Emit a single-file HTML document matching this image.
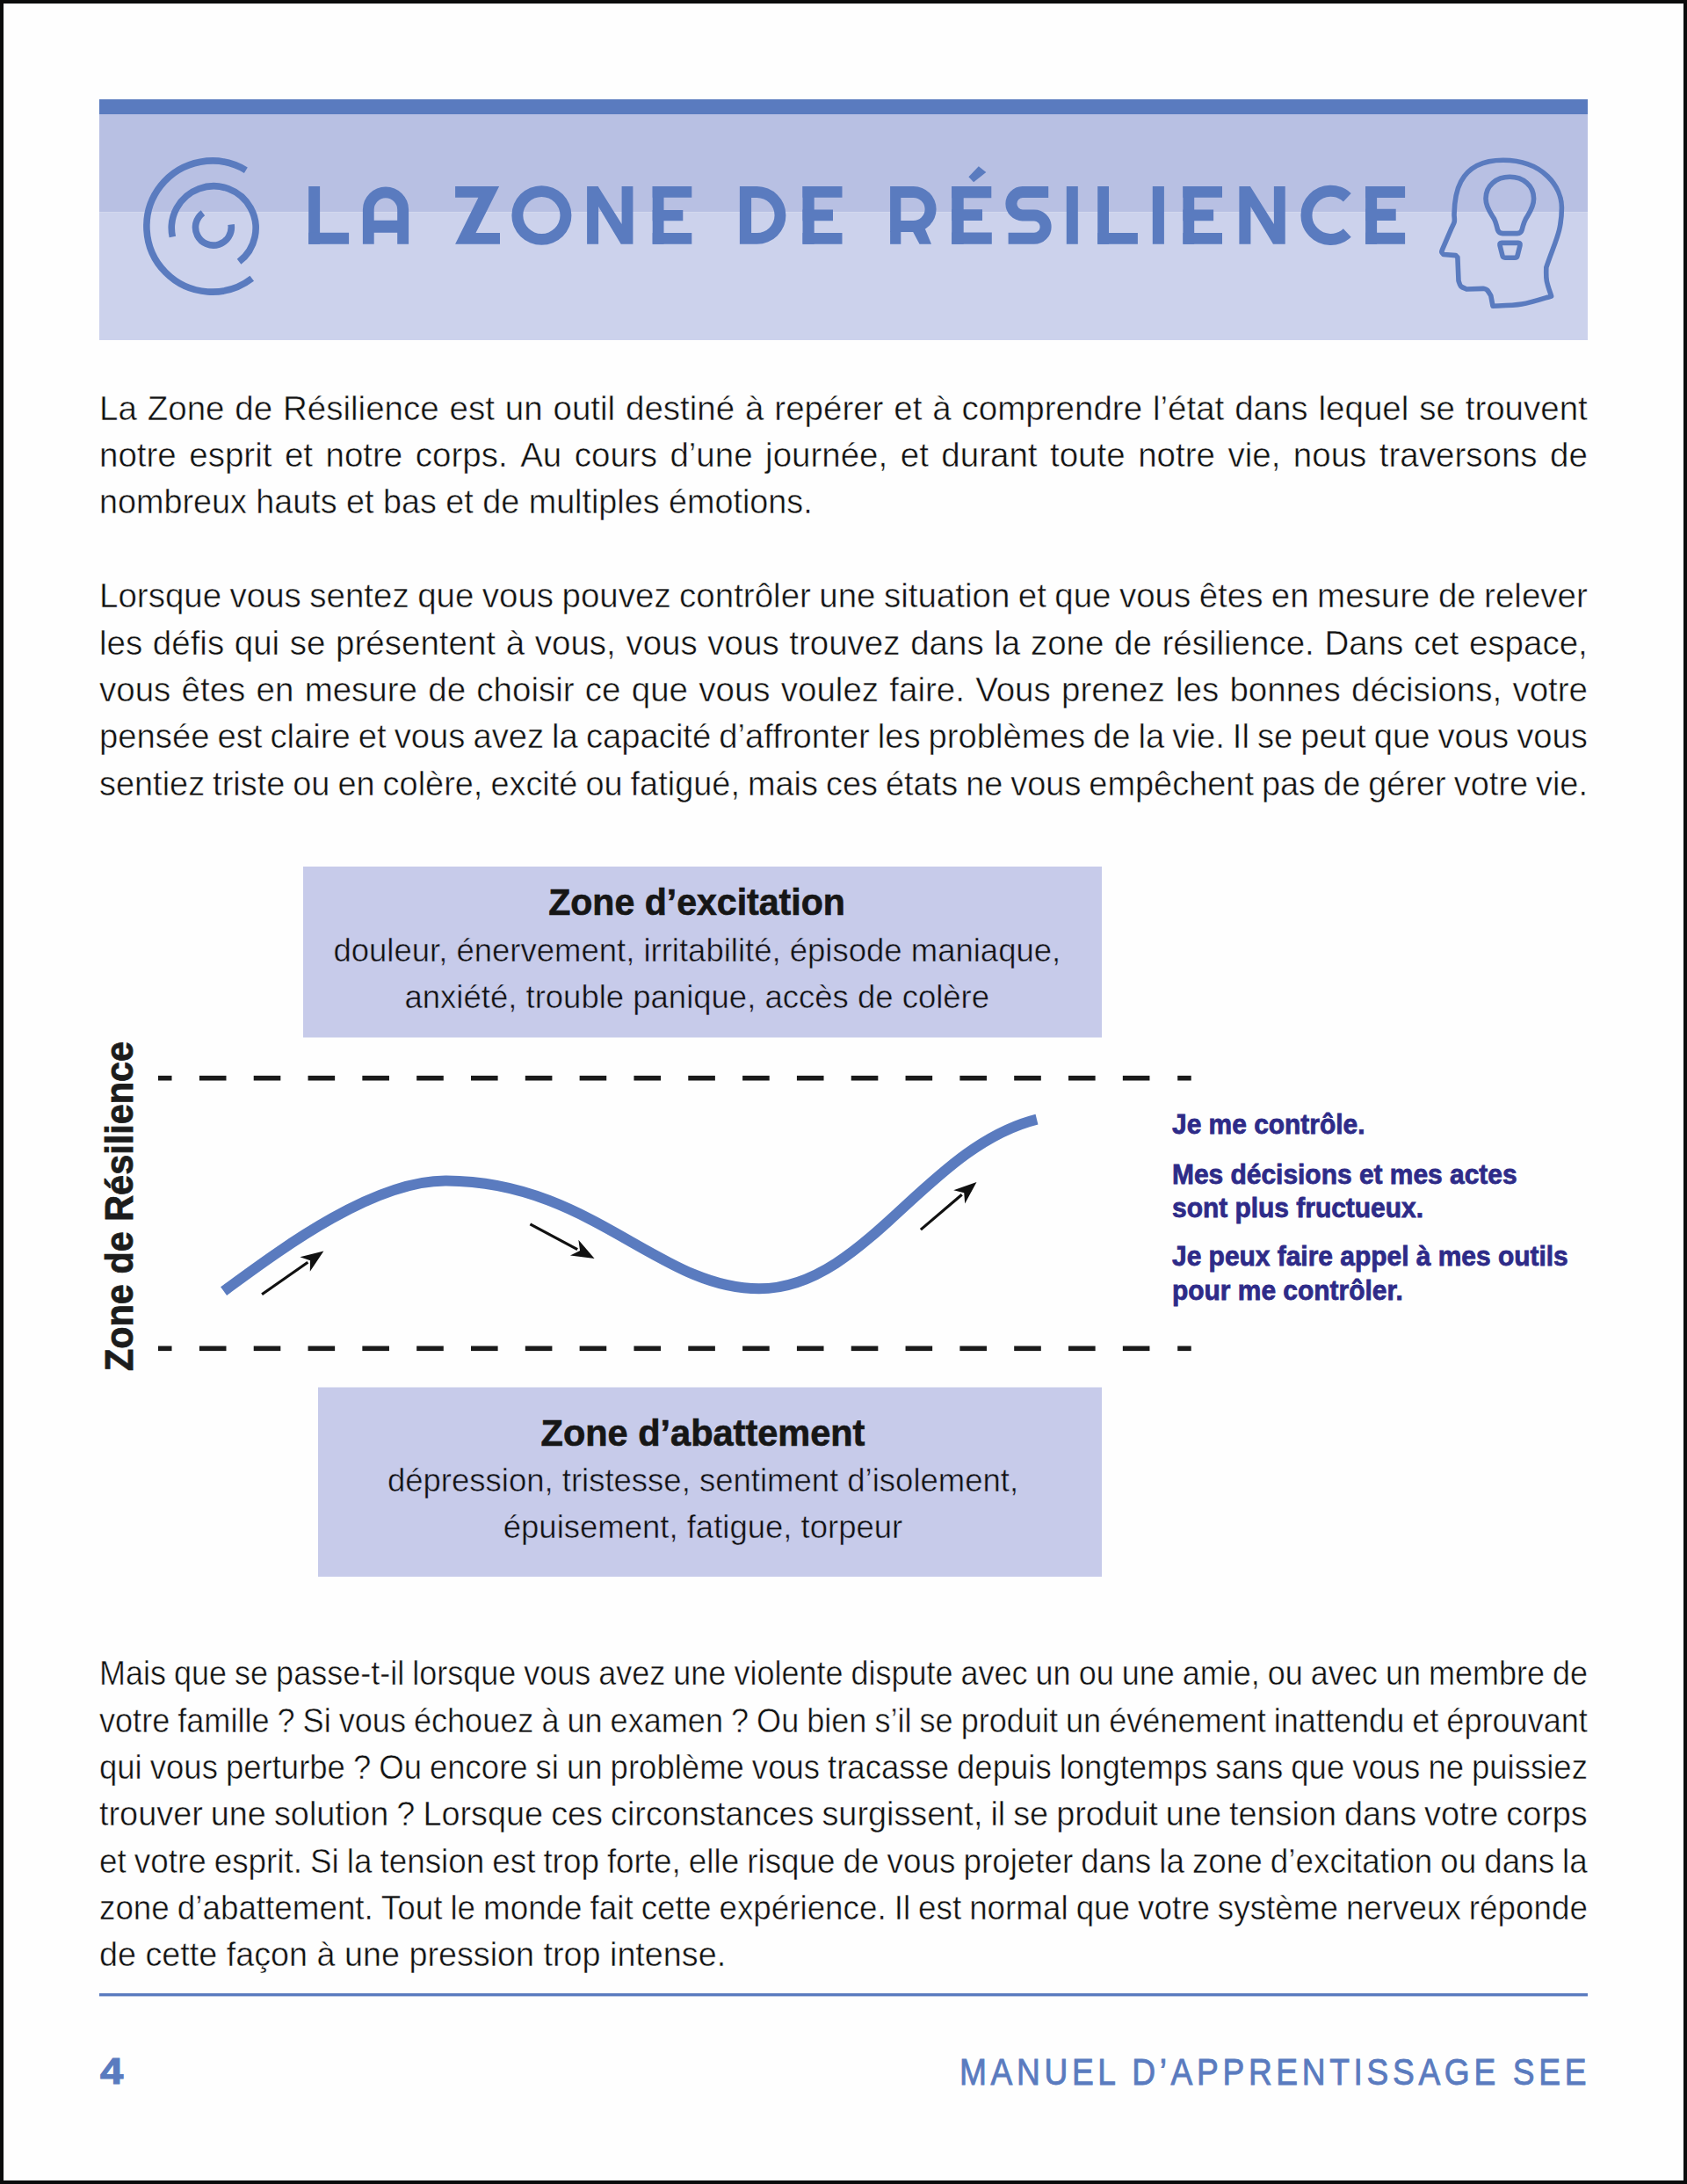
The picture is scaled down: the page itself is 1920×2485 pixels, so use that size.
<!DOCTYPE html>
<html><head><meta charset="utf-8"><title>La Zone de Résilience</title>
<style>
html,body{margin:0;padding:0;background:#fff;}
body{width:1920px;height:2485px;position:relative;overflow:hidden;font-family:"Liberation Sans",sans-serif;}
.ln{position:absolute;white-space:nowrap;}
.j{display:flex;justify-content:space-between;}
.j span{flex:0 0 auto;}
.thin{-webkit-text-stroke:0.5px #fefefe;}
.thinb{-webkit-text-stroke:0.5px #c7cbea;}
svg{position:absolute;left:0;top:0;}
</style></head><body>
<svg width="1920" height="2485" viewBox="0 0 1920 2485">
<rect x="0" y="0" width="1920" height="2485" fill="#fefefe"/>
<rect x="113" y="113" width="1694" height="17" fill="#5a7bbf"/>
<rect x="113" y="130" width="1694" height="111.5" fill="#b8c0e3"/>
<rect x="113" y="241.5" width="1694" height="145.5" fill="#ccd2ec"/>
<g fill="#5a7bbf"><path d="M351.2 212H364.1V277.8H351.2Z"/><path d="M351.2 264.7H397.1V277.8H351.2Z"/><path d="M518.1 212L568.1 212L541.5 265L569 265L569 277.8L518.1 277.8L544.4 224.7L518.1 224.7Z"/><path d="M668.1 212L680.6 212L707.6 255L707.6 212L720.4 212L720.4 277.8L706.7 277.8L681.1 235.1L681.1 277.8L668.1 277.8Z"/><path d="M742.7 212H755.5V277.8H742.7Z"/><path d="M742.7 212H787.3V224.8H742.7Z"/><path d="M742.7 238.9H777.3V251.2H742.7Z"/><path d="M742.7 265H787.3V277.8H742.7Z"/><path d="M913.5 212H926.7V277.8H913.5Z"/><path d="M913.5 212H958.5V224.8H913.5Z"/><path d="M913.5 238.4H948V251.2H913.5Z"/><path d="M913.5 265H958.5V277.8H913.5Z"/><path d="M1013.1 263H1025.3V277.8H1013.1Z"/><path d="M1036 258L1051 256L1060 277.8L1046.5 277.8Z"/><path d="M1083.2 212H1096.7V277.8H1083.2Z"/><path d="M1083.2 212H1128.3V225.3H1083.2Z"/><path d="M1083.2 238.3H1118V251H1083.2Z"/><path d="M1083.2 264.6H1128.8V277.8H1083.2Z"/><path d="M1102.4 201.3L1113.8 189.2L1122.3 195.9L1108.1 207.3Z"/><path d="M1213.8 212H1226.8V277.8H1213.8Z"/><path d="M1249.2 212H1262V277.8H1249.2Z"/><path d="M1249.2 265H1294.9V277.8H1249.2Z"/><path d="M1311.8 212H1324.9V277.8H1311.8Z"/><path d="M1346.4 212H1359.2V277.8H1346.4Z"/><path d="M1346.4 212H1391V224.8H1346.4Z"/><path d="M1346.4 238.4H1381.1V251.2H1346.4Z"/><path d="M1346.4 265H1391V277.8H1346.4Z"/><path d="M1410.4 212L1422.9 212L1449.9 255L1449.9 212L1462.7 212L1462.7 277.8L1449.0 277.8L1423.4 235.1L1423.4 277.8L1410.4 277.8Z"/><path d="M1554.1 212H1567.1V277.8H1554.1Z"/><path d="M1554.1 212H1599.1V225H1554.1Z"/><path d="M1554.1 237.8H1588.7V251.1H1554.1Z"/><path d="M1554.1 264.8H1599.1V277.8H1554.1Z"/></g>
<g fill="#5a7bbf" fill-rule="evenodd"><path d="M412.9 277.8V238.6A26.1 26.1 0 0 1 465.1 238.6V277.8H452.2V264.7H425.7V277.8ZM425.7 250.8H452.2V238.6A13.25 13.25 0 0 0 425.7 238.6Z"/><path d="M616.4 211.2A34 33.8 0 1 1 616.4 278.8A34 33.8 0 1 1 616.4 211.2ZM616.4 224A21.1 21 0 1 0 616.4 266A21.1 21 0 1 0 616.4 224Z"/><path d="M841.9 212H861.5A32.9 32.9 0 0 1 861.5 277.8H841.9ZM855.1 224.9H861.5A20.05 20.05 0 0 1 861.5 265H855.1Z"/><path d="M1013.1 212H1039.6A26 26 0 0 1 1039.6 264H1013.1ZM1025.3 225H1039.6A13 13 0 0 1 1039.6 251H1025.3Z"/></g>
<g fill="none" stroke="#5a7bbf" stroke-width="13"><path d="M1193.2 218.45H1163.8A13.28 13.28 0 0 0 1163.8 245H1177A13.12 13.12 0 0 1 1177 271.25H1147.6"/><path d="M1533.29 224.75A27.55 27.55 0 1 0 1533.29 265.05"/></g>
<g fill="none" stroke="#5a7bbf" stroke-width="7.6"><path d="M279.85 193.65A74.55 74.55 0 1 0 286.73 316.77"/><path d="M196.35 269.56A47.9 47.9 0 1 1 272.09 297.80"/><path d="M263.05 255.51A20.4 20.4 0 1 1 230.91 242.20"/></g>
<g fill="none" stroke="#5a7bbf" stroke-width="5.6" stroke-linejoin="round"><path d="M1699 348.2L1696.8 336.5C1696.10 335.43 1694.02 331.45 1692.60 330.10C1691.18 328.75 1689.02 328.68 1688.30 328.40L1669.1 329C1668.03 328.47 1664.22 327.40 1662.70 325.80C1661.18 324.20 1660.45 320.47 1660.00 319.40L1658.9 292.7C1658.55 292.35 1657.15 290.95 1656.80 290.60L1642.9 289.5C1642.55 289.05 1640.97 287.87 1640.80 286.80C1640.63 285.73 1641.72 283.72 1641.90 283.10L1652 259.6C1652.53 258.37 1654.70 254.68 1655.20 252.20C1655.70 249.72 1655.03 245.95 1655.00 244.70C1655.45 229.7 1654.7 182.3 1710.7 182.3C1756.7 182.3 1777.4 213.2 1777.4 236.2C1777.4 264.2 1769.5 275 1759.8 304.4C1759.88 306.90 1759.33 313.97 1760.30 319.40C1761.27 324.83 1764.72 334.07 1765.60 337.00C1760.00 338.52 1743.10 344.23 1732.00 346.10C1720.90 347.97 1704.50 347.85 1699.00 348.20Z"/><path d="M1691 226C1691 236 1697 243 1700.5 249C1703 254 1703.5 258 1704.5 261.5Q1706 265.6 1710.3 265.6L1726.9 265.6Q1731 265.6 1732.2 261.5C1733 258 1734 254 1736.5 249C1740 243 1745.6 236 1745.6 226C1745.6 211 1733.6 201.3 1718.3 201.3C1703 201.3 1691 211 1691 226Z"/><path d="M1709 276.4L1728 276.4Q1730.5 276.4 1730 279L1727 291Q1726.5 293.2 1724 293.2L1713 293.2Q1710.5 293.2 1710 291L1707 279Q1706.5 276.4 1709 276.4Z"/></g>
<rect x="345" y="986" width="909" height="194.5" fill="#c7cbea"/>
<rect x="362" y="1578.5" width="892" height="215.5" fill="#c7cbea"/>
<g fill="#1a1a1a"><rect x="180" y="1223.90" width="15.5" height="5.6"/><rect x="226.90" y="1223.90" width="30.6" height="5.6"/><rect x="288.72" y="1223.90" width="30.6" height="5.6"/><rect x="350.54" y="1223.90" width="30.6" height="5.6"/><rect x="412.36" y="1223.90" width="30.6" height="5.6"/><rect x="474.18" y="1223.90" width="30.6" height="5.6"/><rect x="536.00" y="1223.90" width="30.6" height="5.6"/><rect x="597.82" y="1223.90" width="30.6" height="5.6"/><rect x="659.64" y="1223.90" width="30.6" height="5.6"/><rect x="721.46" y="1223.90" width="30.6" height="5.6"/><rect x="783.28" y="1223.90" width="30.6" height="5.6"/><rect x="845.10" y="1223.90" width="30.6" height="5.6"/><rect x="906.92" y="1223.90" width="30.6" height="5.6"/><rect x="968.74" y="1223.90" width="30.6" height="5.6"/><rect x="1030.56" y="1223.90" width="30.6" height="5.6"/><rect x="1092.38" y="1223.90" width="30.6" height="5.6"/><rect x="1154.20" y="1223.90" width="30.6" height="5.6"/><rect x="1216.02" y="1223.90" width="30.6" height="5.6"/><rect x="1277.84" y="1223.90" width="30.6" height="5.6"/><rect x="1340.2" y="1223.90" width="15.5" height="5.6"/><rect x="180" y="1531.50" width="15.5" height="5.6"/><rect x="226.90" y="1531.50" width="30.6" height="5.6"/><rect x="288.72" y="1531.50" width="30.6" height="5.6"/><rect x="350.54" y="1531.50" width="30.6" height="5.6"/><rect x="412.36" y="1531.50" width="30.6" height="5.6"/><rect x="474.18" y="1531.50" width="30.6" height="5.6"/><rect x="536.00" y="1531.50" width="30.6" height="5.6"/><rect x="597.82" y="1531.50" width="30.6" height="5.6"/><rect x="659.64" y="1531.50" width="30.6" height="5.6"/><rect x="721.46" y="1531.50" width="30.6" height="5.6"/><rect x="783.28" y="1531.50" width="30.6" height="5.6"/><rect x="845.10" y="1531.50" width="30.6" height="5.6"/><rect x="906.92" y="1531.50" width="30.6" height="5.6"/><rect x="968.74" y="1531.50" width="30.6" height="5.6"/><rect x="1030.56" y="1531.50" width="30.6" height="5.6"/><rect x="1092.38" y="1531.50" width="30.6" height="5.6"/><rect x="1154.20" y="1531.50" width="30.6" height="5.6"/><rect x="1216.02" y="1531.50" width="30.6" height="5.6"/><rect x="1277.84" y="1531.50" width="30.6" height="5.6"/><rect x="1340.2" y="1531.50" width="15.5" height="5.6"/></g>
<path d="M254.6 1469.1C315.2 1424.9 422 1343.6 507 1343.6C672 1343.6 749 1466.3 864 1466.3C984 1466.3 1053.9 1305.1 1180 1273.6" fill="none" stroke="#5a7bbf" stroke-width="12"/>
<line x1="298.1" y1="1472.7" x2="350.36" y2="1436.20" stroke="#111" stroke-width="3.2"/><path d="M368.4 1423.6L352.81 1446.69L353.05 1434.32L341.36 1430.29Z" fill="#111"/><line x1="603.4" y1="1392.9" x2="657.18" y2="1421.56" stroke="#111" stroke-width="3.2"/><path d="M676.6 1431.9L648.95 1428.50L660.08 1423.10L658.36 1410.85Z" fill="#111"/><line x1="1047.9" y1="1399.1" x2="1094.74" y2="1359.25" stroke="#111" stroke-width="3.2"/><path d="M1111.5 1345L1098.17 1369.46L1097.24 1357.13L1085.22 1354.23Z" fill="#111"/>
<rect x="113" y="2268" width="1694" height="3.4" fill="#5a7bbf"/>
<rect x="0" y="0" width="1920" height="4" fill="#0b0c0c"/>
<rect x="0" y="2481" width="1920" height="4" fill="#0b0c0c"/>
<rect x="0" y="0" width="4" height="2485" fill="#0b0c0c"/>
<rect x="1916" y="0" width="4" height="2485" fill="#0b0c0c"/>
</svg>
<div class="ln j thin" style="top:446.25px;font-size:38.5px;line-height:38.5px;font-weight:400;color:#111111;left:113px;width:1694.00px;transform:scaleX(1.0);transform-origin:0 0;"><span>La</span><span>Zone</span><span>de</span><span>Résilience</span><span>est</span><span>un</span><span>outil</span><span>destiné</span><span>à</span><span>repérer</span><span>et</span><span>à</span><span>comprendre</span><span>l’état</span><span>dans</span><span>lequel</span><span>se</span><span>trouvent</span></div>
<div class="ln j thin" style="top:499.25px;font-size:38.5px;line-height:38.5px;font-weight:400;color:#111111;left:113px;width:1694.00px;transform:scaleX(1.0);transform-origin:0 0;"><span>notre</span><span>esprit</span><span>et</span><span>notre</span><span>corps.</span><span>Au</span><span>cours</span><span>d’une</span><span>journée,</span><span>et</span><span>durant</span><span>toute</span><span>notre</span><span>vie,</span><span>nous</span><span>traversons</span><span>de</span></div>
<div class="ln thin" style="top:552.25px;font-size:38.5px;line-height:38.5px;font-weight:400;color:#111111;left:113px;transform:scaleX(0.98);transform-origin:0 0;">nombreux hauts et bas et de multiples émotions.</div>
<div class="ln j thin" style="top:659.25px;font-size:38.5px;line-height:38.5px;font-weight:400;color:#111111;left:113px;width:1694.00px;transform:scaleX(1.0);transform-origin:0 0;"><span>Lorsque</span><span>vous</span><span>sentez</span><span>que</span><span>vous</span><span>pouvez</span><span>contrôler</span><span>une</span><span>situation</span><span>et</span><span>que</span><span>vous</span><span>êtes</span><span>en</span><span>mesure</span><span>de</span><span>relever</span></div>
<div class="ln j thin" style="top:713.25px;font-size:38.5px;line-height:38.5px;font-weight:400;color:#111111;left:113px;width:1694.00px;transform:scaleX(1.0);transform-origin:0 0;"><span>les</span><span>défis</span><span>qui</span><span>se</span><span>présentent</span><span>à</span><span>vous,</span><span>vous</span><span>vous</span><span>trouvez</span><span>dans</span><span>la</span><span>zone</span><span>de</span><span>résilience.</span><span>Dans</span><span>cet</span><span>espace,</span></div>
<div class="ln j thin" style="top:766.25px;font-size:38.5px;line-height:38.5px;font-weight:400;color:#111111;left:113px;width:1694.00px;transform:scaleX(1.0);transform-origin:0 0;"><span>vous</span><span>êtes</span><span>en</span><span>mesure</span><span>de</span><span>choisir</span><span>ce</span><span>que</span><span>vous</span><span>voulez</span><span>faire.</span><span>Vous</span><span>prenez</span><span>les</span><span>bonnes</span><span>décisions,</span><span>votre</span></div>
<div class="ln j thin" style="top:819.25px;font-size:38.5px;line-height:38.5px;font-weight:400;color:#111111;left:113px;width:1706.18px;transform:scaleX(0.9928595438664398);transform-origin:0 0;"><span>pensée</span><span>est</span><span>claire</span><span>et</span><span>vous</span><span>avez</span><span>la</span><span>capacité</span><span>d’affronter</span><span>les</span><span>problèmes</span><span>de</span><span>la</span><span>vie.</span><span>Il</span><span>se</span><span>peut</span><span>que</span><span>vous</span><span>vous</span></div>
<div class="ln j thin" style="top:873.25px;font-size:38.5px;line-height:38.5px;font-weight:400;color:#111111;left:113px;width:1720.56px;transform:scaleX(0.9845659486870513);transform-origin:0 0;"><span>sentiez</span><span>triste</span><span>ou</span><span>en</span><span>colère,</span><span>excité</span><span>ou</span><span>fatigué,</span><span>mais</span><span>ces</span><span>états</span><span>ne</span><span>vous</span><span>empêchent</span><span>pas</span><span>de</span><span>gérer</span><span>votre</span><span>vie.</span></div>
<div class="ln j thin" style="top:1885.25px;font-size:38.5px;line-height:38.5px;font-weight:400;color:#111111;left:113px;width:1811.75px;transform:scaleX(0.9350101201953054);transform-origin:0 0;"><span>Mais</span><span>que</span><span>se</span><span>passe-t-il</span><span>lorsque</span><span>vous</span><span>avez</span><span>une</span><span>violente</span><span>dispute</span><span>avec</span><span>un</span><span>ou</span><span>une</span><span>amie,</span><span>ou</span><span>avec</span><span>un</span><span>membre</span><span>de</span></div>
<div class="ln j thin" style="top:1939.25px;font-size:38.5px;line-height:38.5px;font-weight:400;color:#111111;left:113px;width:1807.04px;transform:scaleX(0.9374471031776563);transform-origin:0 0;"><span>votre</span><span>famille</span><span>?</span><span>Si</span><span>vous</span><span>échouez</span><span>à</span><span>un</span><span>examen</span><span>?</span><span>Ou</span><span>bien</span><span>s’il</span><span>se</span><span>produit</span><span>un</span><span>événement</span><span>inattendu</span><span>et</span><span>éprouvant</span></div>
<div class="ln j thin" style="top:1992.25px;font-size:38.5px;line-height:38.5px;font-weight:400;color:#111111;left:113px;width:1785.84px;transform:scaleX(0.9485721980167546);transform-origin:0 0;"><span>qui</span><span>vous</span><span>perturbe</span><span>?</span><span>Ou</span><span>encore</span><span>si</span><span>un</span><span>problème</span><span>vous</span><span>tracasse</span><span>depuis</span><span>longtemps</span><span>sans</span><span>que</span><span>vous</span><span>ne</span><span>puissiez</span></div>
<div class="ln j thin" style="top:2045.25px;font-size:38.5px;line-height:38.5px;font-weight:400;color:#111111;left:113px;width:1723.32px;transform:scaleX(0.9829857245598652);transform-origin:0 0;"><span>trouver</span><span>une</span><span>solution</span><span>?</span><span>Lorsque</span><span>ces</span><span>circonstances</span><span>surgissent,</span><span>il</span><span>se</span><span>produit</span><span>une</span><span>tension</span><span>dans</span><span>votre</span><span>corps</span></div>
<div class="ln j thin" style="top:2099.25px;font-size:38.5px;line-height:38.5px;font-weight:400;color:#111111;left:113px;width:1769.80px;transform:scaleX(0.9571676940097993);transform-origin:0 0;"><span>et</span><span>votre</span><span>esprit.</span><span>Si</span><span>la</span><span>tension</span><span>est</span><span>trop</span><span>forte,</span><span>elle</span><span>risque</span><span>de</span><span>vous</span><span>projeter</span><span>dans</span><span>la</span><span>zone</span><span>d’excitation</span><span>ou</span><span>dans</span><span>la</span></div>
<div class="ln j thin" style="top:2152.25px;font-size:38.5px;line-height:38.5px;font-weight:400;color:#111111;left:113px;width:1772.12px;transform:scaleX(0.9559194075323107);transform-origin:0 0;"><span>zone</span><span>d’abattement.</span><span>Tout</span><span>le</span><span>monde</span><span>fait</span><span>cette</span><span>expérience.</span><span>Il</span><span>est</span><span>normal</span><span>que</span><span>votre</span><span>système</span><span>nerveux</span><span>réponde</span></div>
<div class="ln thin" style="top:2205.25px;font-size:38.5px;line-height:38.5px;font-weight:400;color:#111111;left:113px;transform:scaleX(0.98);transform-origin:0 0;">de cette façon à une pression trop intense.</div>
<div class="ln " style="top:1005.20px;font-size:43px;line-height:43px;font-weight:700;color:#161616;left:793.3px;transform:scaleX(0.955) translateX(-50%);transform-origin:0 0;-webkit-text-stroke:0.7px #161616;">Zone d’excitation</div>
<div class="ln thinb" style="top:1064.05px;font-size:36.5px;line-height:36.5px;font-weight:400;color:#111111;left:793.3px;transform:scaleX(1.0) translateX(-50%);transform-origin:0 0;">douleur, énervement, irritabilité, épisode maniaque,</div>
<div class="ln thinb" style="top:1117.45px;font-size:36.5px;line-height:36.5px;font-weight:400;color:#111111;left:793.3px;transform:scaleX(1.0) translateX(-50%);transform-origin:0 0;">anxiété, trouble panique, accès de colère</div>
<div class="ln " style="top:1608.50px;font-size:43px;line-height:43px;font-weight:700;color:#161616;left:800px;transform:scaleX(0.965) translateX(-50%);transform-origin:0 0;-webkit-text-stroke:0.7px #161616;">Zone d’abattement</div>
<div class="ln thinb" style="top:1667.05px;font-size:36.5px;line-height:36.5px;font-weight:400;color:#111111;left:800px;transform:scaleX(1.0) translateX(-50%);transform-origin:0 0;">dépression, tristesse, sentiment d’isolement,</div>
<div class="ln thinb" style="top:1720.35px;font-size:36.5px;line-height:36.5px;font-weight:400;color:#111111;left:800px;transform:scaleX(1.0) translateX(-50%);transform-origin:0 0;">épuisement, fatigue, torpeur</div>
<div class="ln " style="top:1264.45px;font-size:31.5px;line-height:31.5px;font-weight:700;color:#2e2b88;left:1333.5px;transform:scaleX(0.95);transform-origin:0 0;-webkit-text-stroke:0.8px #2e2b88;">Je me contrôle.</div>
<div class="ln " style="top:1320.85px;font-size:31.5px;line-height:31.5px;font-weight:700;color:#2e2b88;left:1333.5px;transform:scaleX(0.95);transform-origin:0 0;-webkit-text-stroke:0.8px #2e2b88;">Mes décisions et mes actes</div>
<div class="ln " style="top:1359.05px;font-size:31.5px;line-height:31.5px;font-weight:700;color:#2e2b88;left:1333.5px;transform:scaleX(0.95);transform-origin:0 0;-webkit-text-stroke:0.8px #2e2b88;">sont plus fructueux.</div>
<div class="ln " style="top:1414.05px;font-size:31.5px;line-height:31.5px;font-weight:700;color:#2e2b88;left:1333.5px;transform:scaleX(0.95);transform-origin:0 0;-webkit-text-stroke:0.8px #2e2b88;">Je peux faire appel à mes outils</div>
<div class="ln " style="top:1452.55px;font-size:31.5px;line-height:31.5px;font-weight:700;color:#2e2b88;left:1333.5px;transform:scaleX(0.95);transform-origin:0 0;-webkit-text-stroke:0.8px #2e2b88;">pour me contrôler.</div>
<div class="ln" style="left:151px;top:1559.5px;width:0;height:0;"><div style="position:absolute;left:0;top:0;transform:rotate(-90deg);transform-origin:0 0;"><div class="ln " style="top:-38.00px;font-size:45px;line-height:45px;font-weight:700;color:#1c1c1c;left:0px;transform:scaleX(0.92);transform-origin:0 0;-webkit-text-stroke:0.9px #1c1c1c;">Zone de Résilience</div>
</div></div>
<div class="ln " style="top:2335.60px;font-size:41.8px;line-height:41.8px;font-weight:700;color:#5a7bbf;left:113.5px;transform:scaleX(1.13);transform-origin:0 0;-webkit-text-stroke:1.1px #5a7bbf;">4</div>
<div class="ln " style="top:2336.90px;font-size:42.2px;line-height:42.2px;font-weight:400;color:#5a7bbf;right:109.5px;transform:scaleX(0.88);transform-origin:100% 0;letter-spacing:5.3px;-webkit-text-stroke:0.9px #5a7bbf;">MANUEL D’APPRENTISSAGE SEE</div>
</body></html>
